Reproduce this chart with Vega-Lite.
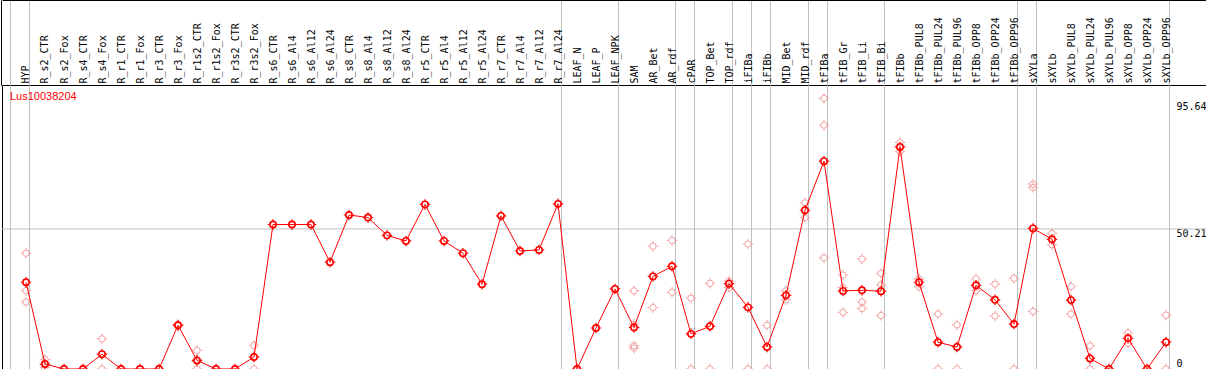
{
  "$schema": "https://vega.github.io/schema/vega-lite/v6.json",
  "width": 1204,
  "height": 284,
  "autosize": {"type": "none"},
  "padding": {"left": 2, "top": 85, "right": 0, "bottom": 0},
  "background": "white",
  "config": {"view": {"stroke": "black", "strokeWidth": 1, "fill": "white"}, "axis": {"title": null}},
  "datasets": {
    "means": [
      {"cat": "HYP", "v": 31.1}, {"cat": "R_s2_CTR", "v": 1.8}, {"cat": "R_s2_Fox", "v": 0}, {"cat": "R_s4_CTR", "v": 0},
      {"cat": "R_s4_Fox", "v": 5.3}, {"cat": "R_r1_CTR", "v": 0}, {"cat": "R_r1_Fox", "v": 0}, {"cat": "R_r3_CTR", "v": 0},
      {"cat": "R_r3_Fox", "v": 15.7}, {"cat": "R_r1s2_CTR", "v": 3.1}, {"cat": "R_r1s2_Fox", "v": 0}, {"cat": "R_r3s2_CTR", "v": 0},
      {"cat": "R_r3s2_Fox", "v": 4.3}, {"cat": "R_s6_CTR", "v": 51.8}, {"cat": "R_s6_Al4", "v": 51.8}, {"cat": "R_s6_Al12", "v": 51.8},
      {"cat": "R_s6_Al24", "v": 38.3}, {"cat": "R_s8_CTR", "v": 55.2}, {"cat": "R_s8_Al4", "v": 54.3}, {"cat": "R_s8_Al12", "v": 47.9},
      {"cat": "R_s8_Al24", "v": 45.9}, {"cat": "R_r5_CTR", "v": 59.0}, {"cat": "R_r5_Al4", "v": 45.9}, {"cat": "R_r5_Al12", "v": 41.5},
      {"cat": "R_r5_Al24", "v": 30.4}, {"cat": "R_r7_CTR", "v": 54.9}, {"cat": "R_r7_Al4", "v": 42.3}, {"cat": "R_r7_Al12", "v": 42.7},
      {"cat": "R_r7_Al24", "v": 59.2}, {"cat": "LEAF_N", "v": 0}, {"cat": "LEAF_P", "v": 14.7}, {"cat": "LEAF_NPK", "v": 28.7},
      {"cat": "SAM", "v": 14.9}, {"cat": "AR_Bet", "v": 33.2}, {"cat": "AR_rdf", "v": 36.8}, {"cat": "cPAR", "v": 12.6},
      {"cat": "TOP_Bet", "v": 15.3}, {"cat": "TOP_rdf", "v": 30.6}, {"cat": "iFIBa", "v": 22.1}, {"cat": "iFIBb", "v": 7.9},
      {"cat": "MID_Bet", "v": 26.4}, {"cat": "MID_rdf", "v": 56.9}, {"cat": "tFIBa", "v": 74.5}, {"cat": "tFIB_Gr", "v": 28.0},
      {"cat": "tFIB_Li", "v": 28.2}, {"cat": "tFIB_Bi", "v": 27.9}, {"cat": "tFIBb", "v": 79.6}, {"cat": "tFIBb_PUL8", "v": 31.1},
      {"cat": "tFIBb_PUL24", "v": 9.6}, {"cat": "tFIBb_PUL96", "v": 7.9}, {"cat": "tFIBb_OPP8", "v": 30.0}, {"cat": "tFIBb_OPP24", "v": 24.8},
      {"cat": "tFIBb_OPP96", "v": 16.1}, {"cat": "sXYLa", "v": 50.4}, {"cat": "sXYLb", "v": 46.5}, {"cat": "sXYLb_PUL8", "v": 24.7},
      {"cat": "sXYLb_PUL24", "v": 3.8}, {"cat": "sXYLb_PUL96", "v": 0}, {"cat": "sXYLb_OPP8", "v": 11.0}, {"cat": "sXYLb_OPP24", "v": 0},
      {"cat": "sXYLb_OPP96", "v": 9.6}
    ],
    "reps": [
      {"cat": "HYP", "v": 41.5}, {"cat": "HYP", "v": 28.1}, {"cat": "HYP", "v": 24.0},
      {"cat": "R_s2_CTR", "v": 3.4}, {"cat": "R_s2_CTR", "v": 1.5}, {"cat": "R_s2_CTR", "v": 0.5},
      {"cat": "R_s4_Fox", "v": 10.8}, {"cat": "R_s4_Fox", "v": 0},
      {"cat": "R_r3_Fox", "v": 16.0}, {"cat": "R_r3_Fox", "v": 15.4},
      {"cat": "R_r1s2_CTR", "v": 6.7}, {"cat": "R_r1s2_CTR", "v": 0}, {"cat": "R_r1s2_CTR", "v": 2.6},
      {"cat": "R_r3s2_Fox", "v": 8.5}, {"cat": "R_r3s2_Fox", "v": 0}, {"cat": "R_r3s2_Fox", "v": 4.4},
      {"cat": "SAM", "v": 28.0}, {"cat": "SAM", "v": 16.1}, {"cat": "SAM", "v": 8.3}, {"cat": "SAM", "v": 7.5},
      {"cat": "AR_Bet", "v": 44.0}, {"cat": "AR_Bet", "v": 22.0},
      {"cat": "AR_rdf", "v": 46.1}, {"cat": "AR_rdf", "v": 27.5},
      {"cat": "cPAR", "v": 25.4}, {"cat": "cPAR", "v": 0},
      {"cat": "TOP_Bet", "v": 30.7}, {"cat": "TOP_Bet", "v": 0},
      {"cat": "TOP_rdf", "v": 31.5}, {"cat": "TOP_rdf", "v": 29.2},
      {"cat": "iFIBa", "v": 44.8}, {"cat": "iFIBa", "v": 0},
      {"cat": "iFIBb", "v": 15.7}, {"cat": "iFIBb", "v": 0},
      {"cat": "MID_Bet", "v": 28.0}, {"cat": "MID_Bet", "v": 24.8},
      {"cat": "MID_rdf", "v": 59.6}, {"cat": "MID_rdf", "v": 54.3},
      {"cat": "tFIBa", "v": 97.0}, {"cat": "tFIBa", "v": 87.4}, {"cat": "tFIBa", "v": 39.8},
      {"cat": "tFIB_Gr", "v": 33.7}, {"cat": "tFIB_Gr", "v": 29.2}, {"cat": "tFIB_Gr", "v": 20.3},
      {"cat": "tFIB_Li", "v": 39.4}, {"cat": "tFIB_Li", "v": 24.0}, {"cat": "tFIB_Li", "v": 21.7},
      {"cat": "tFIB_Bi", "v": 34.3}, {"cat": "tFIB_Bi", "v": 19.2}, {"cat": "tFIB_Bi", "v": 30.1},
      {"cat": "tFIBb", "v": 81.2}, {"cat": "tFIBb", "v": 77.9},
      {"cat": "tFIBb_PUL8", "v": 32.3}, {"cat": "tFIBb_PUL8", "v": 29.5},
      {"cat": "tFIBb_PUL24", "v": 19.7}, {"cat": "tFIBb_PUL24", "v": 0},
      {"cat": "tFIBb_PUL96", "v": 15.8}, {"cat": "tFIBb_PUL96", "v": 0},
      {"cat": "tFIBb_OPP8", "v": 32.3}, {"cat": "tFIBb_OPP8", "v": 28.1},
      {"cat": "tFIBb_OPP24", "v": 30.4}, {"cat": "tFIBb_OPP24", "v": 19.0},
      {"cat": "tFIBb_OPP96", "v": 32.5}, {"cat": "tFIBb_OPP96", "v": 0},
      {"cat": "sXYLa", "v": 66.3}, {"cat": "sXYLa", "v": 65.1}, {"cat": "sXYLa", "v": 20.6},
      {"cat": "sXYLb", "v": 48.6}, {"cat": "sXYLb", "v": 44.5},
      {"cat": "sXYLb_PUL8", "v": 29.6}, {"cat": "sXYLb_PUL8", "v": 19.7},
      {"cat": "sXYLb_PUL24", "v": 8.3}, {"cat": "sXYLb_PUL24", "v": 0},
      {"cat": "sXYLb_OPP8", "v": 12.9}, {"cat": "sXYLb_OPP8", "v": 9.2},
      {"cat": "sXYLb_OPP96", "v": 19.3}, {"cat": "sXYLb_OPP96", "v": 0}
    ]
  },
  "resolve": {"axis": {"x": "independent"}},
  "layer": [
    {
      "data": {"values": [{}]},
      "mark": {"type": "rule", "color": "#c0c0c0", "strokeWidth": 1},
      "encoding": {"y": {"datum": 50.21, "type": "quantitative"}}
    },
    {
      "data": {"name": "reps"},
      "mark": {"type": "point", "shape": "circle", "filled": false, "stroke": "#f2a0a0", "strokeWidth": 1, "size": 40, "opacity": 1},
      "encoding": {
        "x": {"field": "cat", "type": "nominal", "axis": {"orient": "top", "values": ["HYP", "R_r7_Al24", "LEAF_NPK", "AR_rdf", "cPAR", "TOP_rdf", "iFIBa", "iFIBb", "MID_rdf", "tFIBa", "tFIB_Bi", "tFIBb_OPP96", "sXYLa", "sXYLb_OPP96"], "bandPosition": 0.7105, "labels": false, "ticks": true, "tickSize": 85, "tickColor": "#c0c0c0", "tickWidth": 1, "grid": true, "gridColor": "#c0c0c0", "gridWidth": 1, "gridOpacity": 1, "domain": false, "title": null}},
        "y": {"field": "v", "type": "quantitative"}
      }
    },
    {
      "data": {"name": "reps"},
      "mark": {"type": "point", "shape": "M0,-1L0,-0.66M0,0.66L0,1M-1,0L-0.66,0M0.66,0L1,0", "filled": false, "stroke": "#f2a0a0", "strokeWidth": 1, "size": 110, "opacity": 1},
      "encoding": {
        "x": {"field": "cat", "type": "nominal", "axis": null},
        "y": {"field": "v", "type": "quantitative"}
      }
    },
    {
      "data": {"name": "means"},
      "mark": {"type": "line", "color": "red", "strokeWidth": 1},
      "encoding": {
        "x": {"field": "cat", "type": "nominal",
          "scale": {"type": "band", "domain": ["HYP", "R_s2_CTR", "R_s2_Fox", "R_s4_CTR", "R_s4_Fox", "R_r1_CTR", "R_r1_Fox", "R_r3_CTR", "R_r3_Fox", "R_r1s2_CTR", "R_r1s2_Fox", "R_r3s2_CTR", "R_r3s2_Fox", "R_s6_CTR", "R_s6_Al4", "R_s6_Al12", "R_s6_Al24", "R_s8_CTR", "R_s8_Al4", "R_s8_Al12", "R_s8_Al24", "R_r5_CTR", "R_r5_Al4", "R_r5_Al12", "R_r5_Al24", "R_r7_CTR", "R_r7_Al4", "R_r7_Al12", "R_r7_Al24", "LEAF_N", "LEAF_P", "LEAF_NPK", "SAM", "AR_Bet", "AR_rdf", "cPAR", "TOP_Bet", "TOP_rdf", "iFIBa", "iFIBb", "MID_Bet", "MID_rdf", "tFIBa", "tFIB_Gr", "tFIB_Li", "tFIB_Bi", "tFIBb", "tFIBb_PUL8", "tFIBb_PUL24", "tFIBb_PUL96", "tFIBb_OPP8", "tFIBb_OPP24", "tFIBb_OPP96", "sXYLa", "sXYLb", "sXYLb_PUL8", "sXYLb_PUL24", "sXYLb_PUL96", "sXYLb_OPP8", "sXYLb_OPP24", "sXYLb_OPP96", " "], "paddingInner": 0, "paddingOuter": 0.6842, "align": 0.5577},
          "axis": {"orient": "top", "labelAngle": -90, "labelAlign": "left", "labelBaseline": "middle", "labelPadding": 2, "labelOffset": 0.5, "ticks": false, "tickSize": 0, "domain": false, "grid": false, "labelFont": "DejaVu Sans Mono", "labelFontSize": 10, "labelColor": "black", "labelOverlap": false, "labelBound": false, "bandPosition": 0.5, "title": null}
        },
        "y": {"field": "v", "type": "quantitative",
          "scale": {"domain": [0, 101.8], "nice": false, "zero": true},
          "axis": {"orient": "right", "offset": -30, "values": [0, 50.21, 95.64], "format": ".2~f", "ticks": false, "domain": false, "grid": false, "labelPadding": 0, "labelAlign": "left", "labelBaseline": {"condition": {"test": "datum.value < 1", "value": "bottom"}, "value": "middle"}, "labelOffset": {"condition": {"test": "datum.value < 1", "value": -1}, "value": 4.5}, "labelFont": "DejaVu Sans Mono", "labelFontSize": 10, "labelColor": "black", "title": null}
        }
      }
    },
    {
      "data": {"name": "means"},
      "mark": {"type": "point", "shape": "circle", "filled": false, "stroke": "red", "strokeWidth": 1.6, "size": 40, "opacity": 1},
      "encoding": {
        "x": {"field": "cat", "type": "nominal", "axis": {"orient": "top", "offset": 85, "values": ["HYP"], "bandPosition": -0.2895, "labels": false, "ticks": true, "tickSize": -85, "tickColor": "#c0c0c0", "tickWidth": 1, "grid": true, "gridColor": "#c0c0c0", "gridWidth": 1, "gridOpacity": 1, "domain": true, "domainColor": "black", "domainWidth": 1, "title": null}},
        "y": {"field": "v", "type": "quantitative"}
      }
    },
    {
      "data": {"name": "means"},
      "mark": {"type": "point", "shape": "M0,-1L0,-0.66M0,0.66L0,1M-1,0L-0.66,0M0.66,0L1,0", "filled": false, "stroke": "red", "strokeWidth": 1.2, "size": 110, "opacity": 1},
      "encoding": {
        "x": {"field": "cat", "type": "nominal", "axis": null},
        "y": {"field": "v", "type": "quantitative"}
      }
    },
    {
      "data": {"values": [{}]},
      "mark": {"type": "text", "text": "Lus10038204", "align": "left", "baseline": "middle", "dx": -16, "color": "red", "font": "Liberation Sans", "fontSize": 11},
      "encoding": {
        "x": {"datum": "HYP", "type": "nominal", "axis": {"orient": "top", "values": ["HYP"], "bandPosition": -0.7632, "labels": false, "ticks": true, "tickSize": 85, "tickColor": "black", "tickWidth": 1, "grid": false, "domain": false, "title": null}},
        "y": {"datum": 97.5, "type": "quantitative"}
      }
    }
  ]
}
